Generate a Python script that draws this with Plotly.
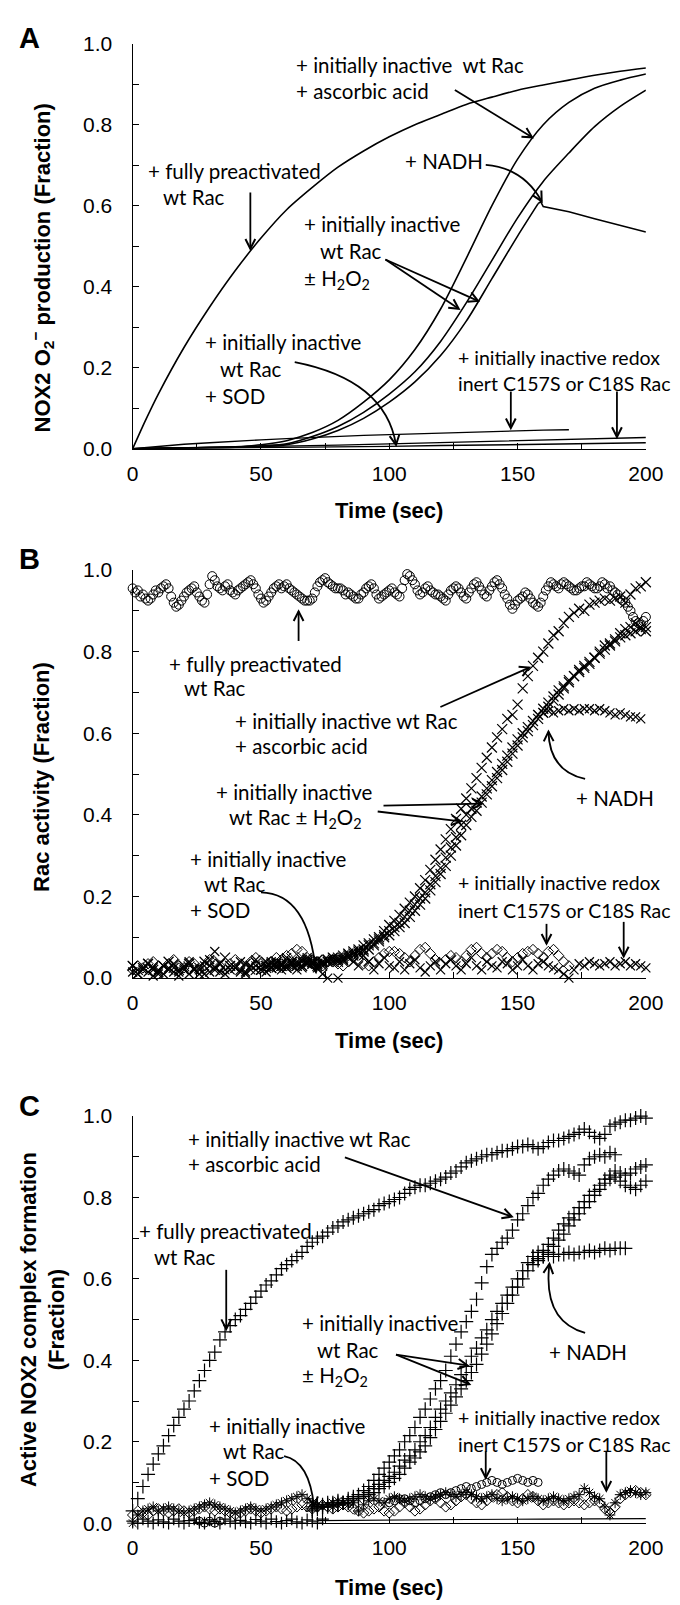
import math
import plotly.graph_objects as go

W, H = 680, 1605
PX_L, PX_R = 123, 655
PANEL_PX = [(24, 435), (558, 972), (1112, 1525)]

# ------------------------------------------------------------------ data
# Panel A (continuous traces)
A_PRE_T = [0, 5, 10, 20, 30, 40, 50, 60, 70, 80, 90, 100, 110, 120, 130, 140, 150, 160, 170, 180, 190, 200]
A_PRE = [0, 0.07, 0.135, 0.25, 0.35, 0.44, 0.52, 0.59, 0.645, 0.695, 0.735, 0.77, 0.80, 0.825, 0.85, 0.868, 0.885, 0.898, 0.91, 0.922, 0.932, 0.94]
A_T10 = [0, 10, 20, 30, 40, 50, 60, 70, 80, 90, 100, 110, 120, 130, 140, 150, 160, 170, 180, 190, 200]
A_ASC = [0, 0.001, 0.002, 0.003, 0.005, 0.01, 0.02, 0.04, 0.07, 0.115, 0.17, 0.245, 0.345, 0.47, 0.60, 0.715, 0.80, 0.855, 0.89, 0.91, 0.925]
A_MID = [0, 0.001, 0.002, 0.003, 0.004, 0.007, 0.012, 0.03, 0.055, 0.09, 0.135, 0.19, 0.265, 0.36, 0.465, 0.57, 0.66, 0.73, 0.795, 0.845, 0.885]
A_RIGHT_T = [0, 10, 20, 30, 40, 50, 60, 70, 80, 90, 100, 110, 120, 130, 140, 150, 158]
A_RIGHT = [0, 0.001, 0.002, 0.003, 0.004, 0.006, 0.01, 0.024, 0.045, 0.075, 0.115, 0.165, 0.23, 0.315, 0.42, 0.525, 0.605]
A_NADH_T = [158, 159, 160, 170, 180, 190, 200]
A_NADH = [0.605, 0.61, 0.598, 0.585, 0.568, 0.552, 0.535]
A_C157S_T = [0, 10, 20, 30, 40, 50, 60, 70, 80, 90, 100, 110, 120, 130, 140, 150, 160, 170]
A_C157S = [0, 0.006, 0.011, 0.015, 0.019, 0.022, 0.025, 0.028, 0.031, 0.033, 0.035, 0.037, 0.039, 0.041, 0.043, 0.044, 0.046, 0.047]
A_T20 = [0, 20, 40, 60, 80, 100, 120, 140, 160, 180, 200]
A_C18S = [0, 0.002, 0.004, 0.006, 0.009, 0.012, 0.015, 0.018, 0.021, 0.024, 0.028]
A_SOD = [0, 0.001, 0.002, 0.003, 0.005, 0.006, 0.008, 0.009, 0.011, 0.013, 0.015]

# Panel B (markers), time grid 2 s
B_T = list(range(0, 201, 2))
B_T_ODD = list(range(1, 200, 2))
B_CIRC = [0.955, 0.95, 0.94, 0.925, 0.94, 0.945, 0.96, 0.955, 0.92, 0.915,
          0.935, 0.95, 0.96, 0.935, 0.92, 0.965, 0.975, 0.955, 0.96, 0.95,
          0.94, 0.955, 0.965, 0.975, 0.955, 0.93, 0.925, 0.945, 0.96, 0.955,
          0.965, 0.95, 0.94, 0.93, 0.925, 0.93, 0.96, 0.975, 0.97, 0.96,
          0.955, 0.95, 0.945, 0.935, 0.93, 0.945, 0.96, 0.955, 0.93, 0.94,
          0.95, 0.945, 0.935, 0.975, 0.985, 0.965, 0.94, 0.955, 0.95, 0.94,
          0.935, 0.925, 0.95, 0.96, 0.945, 0.93, 0.955, 0.97, 0.95, 0.935,
          0.96, 0.975, 0.955, 0.93, 0.905, 0.925, 0.935, 0.94, 0.92, 0.91,
          0.935, 0.96, 0.965, 0.955, 0.97, 0.96, 0.95, 0.955, 0.96, 0.965,
          0.955, 0.96, 0.965, 0.96, 0.945, 0.93, 0.92, 0.9, 0.875, 0.865,
          0.885]
B_CIRC_ODD = [0.945, 0.935, 0.93, 0.93, 0.95, 0.955, 0.965, 0.935, 0.91, 0.925,
              0.945, 0.955, 0.945, 0.925, 0.94, 0.985, 0.96, 0.95, 0.965, 0.945,
              0.95, 0.96, 0.97, 0.965, 0.94, 0.92, 0.935, 0.955, 0.965, 0.96,
              0.955, 0.945, 0.935, 0.925, 0.925, 0.945, 0.97, 0.98, 0.965, 0.955,
              0.955, 0.94, 0.94, 0.93, 0.94, 0.955, 0.965, 0.94, 0.935, 0.945,
              0.955, 0.94, 0.955, 0.99, 0.975, 0.95, 0.945, 0.96, 0.945, 0.94,
              0.93, 0.94, 0.955, 0.955, 0.935, 0.945, 0.965, 0.96, 0.94, 0.95,
              0.97, 0.965, 0.94, 0.915, 0.915, 0.93, 0.945, 0.93, 0.915, 0.92,
              0.95, 0.97, 0.96, 0.965, 0.965, 0.955, 0.95, 0.96, 0.97, 0.96,
              0.955, 0.97, 0.955, 0.95, 0.94, 0.925, 0.91, 0.885, 0.87, 0.875]
B_ASC = [0.03, 0.02, 0.025, 0.035, 0.02, 0.015, 0.03, 0.04, 0.025, 0.02,
         0.03, 0.035, 0.02, 0.025, 0.04, 0.03, 0.02, 0.035, 0.05, 0.03,
         0.025, 0.02, 0.035, 0.03, 0.02, 0.03, 0.04, 0.025, 0.03, 0.035,
         0.03, 0.04, 0.035, 0.03, 0.045, 0.04, 0.035, 0.04, 0.045, 0.05,
         0.05, 0.055, 0.06, 0.065, 0.07, 0.08, 0.085, 0.095, 0.10, 0.115,
         0.13, 0.14, 0.155, 0.17, 0.185, 0.20, 0.22, 0.24, 0.265, 0.29,
         0.315, 0.34, 0.365, 0.39, 0.415, 0.44, 0.465, 0.49, 0.515, 0.54,
         0.565, 0.59, 0.61, 0.635, 0.645, 0.67, 0.71, 0.74, 0.765, 0.785,
         0.80, 0.82, 0.84, 0.85, 0.87, 0.885, 0.895, 0.905, 0.9, 0.915,
         0.92, 0.925, 0.93, 0.925, 0.93, 0.935, 0.92, 0.94, 0.955, 0.96,
         0.97]
B_H_T = list(range(50, 201, 2))
B_H1 = [0.03, 0.025, 0.035, 0.04, 0.03,
        0.035, 0.04, 0.03, 0.045, 0.035, 0.04, 0.045, 0.035, 0.04, 0.045,
        0.045, 0.05, 0.055, 0.06, 0.065, 0.07, 0.08, 0.085, 0.095, 0.105,
        0.115, 0.125, 0.135, 0.15, 0.165, 0.18, 0.195, 0.21, 0.23, 0.25,
        0.27, 0.295, 0.32, 0.345, 0.375, 0.40, 0.415, 0.43, 0.445, 0.465,
        0.485, 0.505, 0.525, 0.545, 0.565, 0.585, 0.60, 0.615, 0.63, 0.645,
        0.66, 0.675, 0.69, 0.705, 0.715, 0.73, 0.74, 0.755, 0.765, 0.775,
        0.785, 0.795, 0.805, 0.815, 0.825, 0.835, 0.84, 0.845, 0.85, 0.855,
        0.86]
B_H2 = [0.02, 0.03, 0.025, 0.035, 0.03,
        0.025, 0.035, 0.04, 0.03, 0.04, 0.035, 0.03, 0.04, 0.045, 0.04,
        0.04, 0.045, 0.05, 0.055, 0.06, 0.065, 0.07, 0.08, 0.09, 0.10,
        0.105, 0.115, 0.125, 0.135, 0.15, 0.165, 0.18, 0.195, 0.215, 0.235,
        0.255, 0.275, 0.30, 0.325, 0.35, 0.375, 0.395, 0.41, 0.43, 0.45,
        0.47, 0.49, 0.51, 0.53, 0.55, 0.57, 0.59, 0.605, 0.62, 0.635,
        0.65, 0.665, 0.68, 0.695, 0.71, 0.725, 0.74, 0.75, 0.76, 0.77,
        0.785, 0.80, 0.815, 0.82, 0.83, 0.845, 0.855, 0.86, 0.87, 0.86,
        0.85]
B_NADH_T = list(range(158, 199, 2))
B_NADH = [0.645, 0.65, 0.655, 0.65, 0.655, 0.66, 0.655, 0.66, 0.655, 0.66, 0.66,
          0.655, 0.66, 0.655, 0.65, 0.645, 0.65, 0.645, 0.64, 0.64, 0.635]
B_C18S = [0.03, 0.01, 0.02, 0.035, 0.025, 0.01, 0.03, 0.02, 0.035, 0.015,
          0.025, 0.04, 0.02, 0.01, 0.03, 0.045, 0.065, 0.035, 0.02, 0.03,
          0.025, 0.04, 0.015, 0.03, 0.045, 0.02, 0.03, 0.04, 0.025, 0.035,
          0.05, 0.03, 0.02, 0.04, 0.05, 0.035, 0.025, 0.01, 0.04, 0.05,
          0.0, 0.045, 0.06, 0.04, 0.03, 0.055, 0.04, 0.02, 0.035, 0.05,
          0.03, 0.025, 0.04, 0.02, 0.035, 0.045, 0.025, 0.015, 0.03, 0.04,
          0.02, 0.035, 0.045, 0.03, 0.02, 0.035, 0.05, 0.03, 0.02, 0.04,
          0.03, 0.025, 0.04, 0.035, 0.02, 0.03, 0.045, 0.03, 0.02, 0.035,
          0.04, 0.03, 0.025, 0.02, 0.01, 0.0, 0.02, 0.035, 0.03, 0.04,
          0.035, 0.03, 0.035, 0.04, 0.03, 0.035, 0.04, 0.03, 0.035, 0.03,
          0.025]
B_C157S_T = list(range(0, 171, 2))
B_C157S = [0.02, 0.03, 0.025, 0.035, 0.04, 0.03, 0.02, 0.035, 0.045, 0.03,
           0.025, 0.04, 0.035, 0.02, 0.03, 0.045, 0.04, 0.03, 0.02, 0.035,
           0.045, 0.03, 0.025, 0.04, 0.05, 0.035, 0.03, 0.04, 0.05, 0.045,
           0.055, 0.06, 0.07, 0.065, 0.05, 0.04, 0.035, 0.03, 0.04, 0.045,
           0.035, 0.03, 0.04, 0.05, 0.045, 0.035, 0.03, 0.04, 0.05, 0.06,
           0.065, 0.065, 0.06, 0.05, 0.04, 0.055, 0.07, 0.075, 0.06, 0.045,
           0.035, 0.045, 0.055, 0.05, 0.04, 0.055, 0.07, 0.075, 0.06, 0.05,
           0.06, 0.07, 0.065, 0.05, 0.04, 0.05, 0.06, 0.065, 0.07, 0.06,
           0.05, 0.065, 0.07, 0.055, 0.04, 0.03]
B_SOD_T = list(range(0, 77, 2))
B_SOD = [0.015, 0.01, 0.025, 0.015, 0.005, 0.02, 0.01, 0.025, 0.015, 0.005,
         0.02, 0.01, 0.025, 0.02, 0.01, 0.015, 0.025, 0.015, 0.01, 0.02,
         0.025, 0.015, 0.01, 0.02, 0.03, 0.02, 0.015, 0.025, 0.03, 0.02,
         0.025, 0.035, 0.03, 0.025, 0.035, 0.04, 0.035, 0.03, 0.0]

# Panel C (markers), time grid 2 s
C_T = list(range(0, 201, 2))
C_PRE = [0.03, 0.06, 0.09, 0.12, 0.145, 0.17, 0.19, 0.215, 0.24, 0.26,
         0.28, 0.30, 0.325, 0.35, 0.375, 0.40, 0.42, 0.45, 0.47, 0.485,
         0.50, 0.51, 0.525, 0.54, 0.555, 0.57, 0.585, 0.595, 0.61, 0.625,
         0.635, 0.645, 0.655, 0.665, 0.68, 0.69, 0.70, 0.705, 0.715, 0.725,
         0.73, 0.74, 0.745, 0.75, 0.755, 0.76, 0.765, 0.77, 0.78, 0.785,
         0.79, 0.795, 0.80, 0.81, 0.82, 0.825, 0.83, 0.83, 0.835, 0.84,
         0.845, 0.85, 0.86, 0.865, 0.875, 0.885, 0.89, 0.895, 0.9, 0.905,
         0.905, 0.91, 0.915, 0.915, 0.92, 0.925, 0.925, 0.93, 0.925, 0.92,
         0.925, 0.935, 0.94, 0.94, 0.945, 0.95, 0.955, 0.96, 0.968, 0.96,
         0.95, 0.945, 0.955, 0.975, 0.98, 0.985, 0.99, 0.99, 0.995, 1.0,
         0.995]
C_ASC_T = list(range(70, 189, 2))
C_ASC = [0.04, 0.045, 0.04, 0.05, 0.045, 0.055, 0.05, 0.06, 0.065, 0.07,
         0.08, 0.09, 0.105, 0.12, 0.135, 0.15, 0.165, 0.18, 0.20, 0.215,
         0.235, 0.26, 0.28, 0.305, 0.33, 0.35, 0.375, 0.41, 0.44, 0.47,
         0.495, 0.52, 0.55, 0.59, 0.63, 0.66, 0.675, 0.69, 0.70, 0.72,
         0.745, 0.76, 0.78, 0.80, 0.81, 0.83, 0.845, 0.855, 0.865, 0.87,
         0.865, 0.86, 0.855, 0.88, 0.895, 0.90, 0.905, 0.90, 0.91, 0.905]
C_H_T = list(range(70, 201, 2))
C_H1 = [0.035, 0.04, 0.045, 0.04, 0.05, 0.045, 0.05, 0.055, 0.06, 0.065,
        0.07, 0.075, 0.085, 0.095, 0.105, 0.115, 0.125, 0.14, 0.155, 0.165,
        0.18, 0.20, 0.215, 0.235, 0.26, 0.28, 0.30, 0.32, 0.34, 0.365,
        0.385, 0.41, 0.43, 0.455, 0.475, 0.50, 0.52, 0.54, 0.56, 0.58,
        0.60, 0.62, 0.64, 0.655, 0.665, 0.67, 0.685, 0.70, 0.72, 0.735,
        0.75, 0.76, 0.775, 0.79, 0.805, 0.815, 0.83, 0.845, 0.855, 0.865,
        0.86, 0.855, 0.86, 0.87, 0.875, 0.88]
C_H2 = [0.03, 0.035, 0.04, 0.045, 0.04, 0.045, 0.05, 0.05, 0.055, 0.06,
        0.065, 0.07, 0.075, 0.085, 0.09, 0.10, 0.11, 0.12, 0.135, 0.15,
        0.16, 0.175, 0.19, 0.21, 0.23, 0.25, 0.27, 0.29, 0.31, 0.33,
        0.35, 0.37, 0.39, 0.415, 0.44, 0.465, 0.49, 0.515, 0.54, 0.56,
        0.58, 0.60, 0.62, 0.635, 0.645, 0.655, 0.665, 0.68, 0.695, 0.71,
        0.73, 0.745, 0.76, 0.775, 0.79, 0.805, 0.82, 0.835, 0.845, 0.85,
        0.84, 0.83, 0.825, 0.82, 0.83, 0.84]
C_NADH_T = list(range(156, 193, 2))
C_NADH = [0.655, 0.65, 0.655, 0.66, 0.655, 0.66, 0.66, 0.665, 0.66, 0.665,
          0.665, 0.67, 0.665, 0.67, 0.675, 0.67, 0.675, 0.675, 0.675]
C_AST = [0.0, 0.02, 0.03, 0.035, 0.04, 0.03, 0.035, 0.04, 0.035, 0.03,
         0.025, 0.03, 0.035, 0.04, 0.045, 0.05, 0.045, 0.04, 0.035, 0.03,
         0.025, 0.03, 0.035, 0.04, 0.035, 0.03, 0.035, 0.04, 0.045, 0.05,
         0.055, 0.06, 0.065, 0.07, 0.06, 0.05, 0.045, 0.04, 0.045, 0.05,
         0.055, 0.05, 0.045, 0.05, 0.03, 0.045, 0.055, 0.06, 0.055, 0.05,
         0.06, 0.065, 0.06, 0.055, 0.06, 0.065, 0.07, 0.065, 0.06, 0.065,
         0.07, 0.075, 0.07, 0.065, 0.07, 0.075, 0.07, 0.065, 0.06, 0.065,
         0.07, 0.06, 0.055, 0.06, 0.065, 0.06, 0.055, 0.06, 0.065, 0.06,
         0.055, 0.06, 0.065, 0.06, 0.055, 0.06, 0.065, 0.07, 0.085, 0.075,
         0.065, 0.06, 0.04, 0.02, 0.05, 0.07, 0.075, 0.08, 0.075, 0.07,
         0.075]
C_DIA = [0.02, 0.03, 0.025, 0.02, 0.03, 0.035, 0.03, 0.025, 0.03, 0.035,
         0.03, 0.025, 0.03, 0.035, 0.04, 0.035, 0.03, 0.035, 0.03, 0.025,
         0.02, 0.025, 0.03, 0.035, 0.03, 0.025, 0.03, 0.035, 0.04, 0.035,
         0.03, 0.035, 0.04, 0.045, 0.04, 0.035, 0.04, 0.045, 0.04, 0.035,
         0.04, 0.045, 0.04, 0.035, 0.03, 0.025, 0.03, 0.035, 0.04, 0.03,
         0.025, 0.03, 0.04, 0.05, 0.04, 0.03, 0.035, 0.045, 0.055, 0.06,
         0.05, 0.04, 0.045, 0.055, 0.065, 0.07, 0.06, 0.05, 0.045, 0.055,
         0.065, 0.07, 0.075, 0.065, 0.055, 0.05, 0.06, 0.07, 0.065, 0.055,
         0.045, 0.05, 0.055, 0.05, 0.045, 0.05, 0.055, 0.05, 0.045, 0.05,
         0.055, 0.05, 0.035, 0.025, 0.04, 0.06, 0.07, 0.075, 0.08, 0.075,
         0.07]
C_CIRC_T = [26, 28, 30, 32, 34] + list(range(100, 159, 2))
C_CIRC = [0.005, 0.0, 0.005, 0.0, 0.005,
          0.05, 0.055, 0.06, 0.06, 0.055, 0.05, 0.055, 0.06, 0.065, 0.07,
          0.075, 0.07, 0.075, 0.08, 0.085, 0.09, 0.085, 0.09, 0.095, 0.1,
          0.105, 0.1, 0.095, 0.1, 0.105, 0.11, 0.105, 0.1, 0.105, 0.1]
C_SOD_T = list(range(0, 75, 2))
C_SOD = [0.005, 0.0, 0.01, 0.005, 0.0, 0.008, 0.003, 0.0, 0.01, 0.005,
         0.0, 0.006, 0.01, 0.002, 0.0, 0.008, 0.004, 0.0, 0.01, 0.005,
         0.0, 0.007, 0.003, 0.0, 0.009, 0.005, 0.0, 0.01, 0.004, 0.0,
         0.006, 0.01, 0.003, 0.0, 0.008, 0.005, 0.0, 0.01]
C_SODLINE_T = [72, 100, 130, 160, 200]
C_SODLINE = [0.006, 0.008, 0.009, 0.01, 0.011]

X_TICKS = [0, 50, 100, 150, 200]
X_MINOR = [25, 75, 125, 175]
Y_TICKS = [0.0, 0.2, 0.4, 0.6, 0.8, 1.0]
Y_MINOR = [0.1, 0.3, 0.5, 0.7, 0.9]

# ------------------------------------------------------------------ helpers
BLACK = '#000000'
SANS = 'Liberation Sans, Arial, sans-serif'
TICKFONT = dict(family=SANS, size=21, color=BLACK)
TITLEFONT = dict(family=SANS, size=22, color=BLACK)
ANNFONT = dict(family='Lato, Liberation Sans, sans-serif', size=20.5, color=BLACK)
ANNFONT_S = dict(family='Lato, Liberation Sans, sans-serif', size=19.5, color=BLACK)
LETTERFONT = dict(family=SANS, size=29, color=BLACK)


def xp(px):
    return px / W


def yp(py):
    return 1 - py / H


def ax_names(i):
    s = '' if i == 0 else str(i + 1)
    return 'x' + s, 'y' + s


fig = go.Figure()


def add_line(t, v, panel, shape='spline', width=1.6):
    xa, ya = ax_names(panel)
    ln = dict(color=BLACK, width=width, shape=shape)
    if shape == 'spline':
        ln['smoothing'] = 0.8
    fig.add_trace(go.Scatter(x=list(t), y=v, mode='lines', line=ln, xaxis=xa, yaxis=ya,
                             hoverinfo='skip', showlegend=False, cliponaxis=False))


def add_markers(t, v, panel, symbol, size=9, lw=1.0):
    xa, ya = ax_names(panel)
    fig.add_trace(go.Scatter(x=list(t), y=v, mode='markers',
                             marker=dict(symbol=symbol, size=size, color=BLACK,
                                         line=dict(color=BLACK, width=lw)),
                             xaxis=xa, yaxis=ya, hoverinfo='skip', showlegend=False,
                             cliponaxis=False))


# ------------------------------------------------------------------ traces
# A
add_line(A_PRE_T, A_PRE, 0)
add_line(A_T10, A_ASC, 0)
add_line(A_T10, A_MID, 0)
add_line(A_RIGHT_T, A_RIGHT, 0)
add_line(A_NADH_T, A_NADH, 0, shape='linear')
add_line(A_C157S_T, A_C157S, 0, shape='linear', width=1.4)
add_line(A_T20, A_C18S, 0, shape='linear', width=1.4)
add_line(A_T20, A_SOD, 0, shape='linear', width=1.4)

# B
add_markers(B_C157S_T, B_C157S, 1, 'diamond-open', 8, 1.0)
add_markers(B_T, B_C18S, 1, 'x-thin-open', 9, 1.2)
add_markers(B_SOD_T, B_SOD, 1, 'x-thin-open', 9, 1.2)
add_markers(B_T, B_CIRC, 1, 'circle-open', 9, 1.0)
add_markers(B_T_ODD, B_CIRC_ODD, 1, 'circle-open', 9, 1.0)
add_markers(B_T, B_ASC, 1, 'x-thin-open', 10, 1.2)
add_markers(B_H_T, B_H1, 1, 'x-thin-open', 10, 1.2)
add_markers(B_H_T, B_H2, 1, 'x-thin-open', 10, 1.2)
add_markers(B_NADH_T, B_NADH, 1, 'x-thin-open', 9, 1.2)

# C
add_line(C_SODLINE_T, C_SODLINE, 2, shape='linear', width=1.2)
add_markers(C_SOD_T, C_SOD, 2, 'cross-thin-open', 9, 1.2)
add_markers(C_T, C_DIA, 2, 'diamond-open', 8, 1.0)
add_markers(C_T, C_AST, 2, 'asterisk-open', 9, 1.0)
add_markers(C_CIRC_T, C_CIRC, 2, 'circle-open', 8, 1.0)
add_markers(C_T, C_PRE, 2, 'cross-thin-open', 10, 1.2)
add_markers(C_ASC_T, C_ASC, 2, 'cross-thin-open', 10, 1.2)
add_markers(C_H_T, C_H1, 2, 'cross-thin-open', 10, 1.2)
add_markers(C_H_T, C_H2, 2, 'cross-thin-open', 10, 1.2)
add_markers(C_NADH_T, C_NADH, 2, 'cross-thin-open', 10, 1.2)

# ------------------------------------------------------------------ axes
axis_common = dict(showline=True, linecolor=BLACK, linewidth=1.3, showgrid=False, zeroline=False,
                   ticks='inside', ticklen=6, tickwidth=1.3, tickcolor=BLACK, tickfont=TICKFONT,
                   fixedrange=True)
layout_axes = {}
for i, (top, bot) in enumerate(PANEL_PX):
    s = '' if i == 0 else str(i + 1)
    layout_axes['xaxis' + s] = dict(axis_common, domain=[xp(PX_L), xp(PX_R)], range=[0, 200],
                                    anchor='y' + s, tickmode='array', tickvals=X_TICKS,
                                    minor=dict(tickmode='array', tickvals=X_MINOR, ticks='inside',
                                               ticklen=6, tickwidth=1.3, tickcolor=BLACK),
                                    ticklabelstandoff=6)
    layout_axes['yaxis' + s] = dict(axis_common, domain=[yp(bot), yp(top)], range=[0, 1],
                                    anchor='x' + s, tickmode='array', tickvals=Y_TICKS,
                                    tickformat='.1f',
                                    minor=dict(tickmode='array', tickvals=Y_MINOR, ticks='inside',
                                               ticklen=6, tickwidth=1.3, tickcolor=BLACK),
                                    ticklabelstandoff=15)

# ------------------------------------------------------------------ annotations
annotations = []
shapes = []


def label(text, px, py, anchor='left', font=ANNFONT, angle=0):
    annotations.append(dict(text=text, x=xp(px), y=yp(py), xref='paper', yref='paper',
                            xanchor=anchor, yanchor='middle', showarrow=False, font=font,
                            textangle=angle))


def seg_path(points):
    return 'M ' + ' L '.join('{:.5f},{:.5f}'.format(xp(a), yp(b)) for a, b in points)


def head(tip, back, size=11, spread=0.48):
    dx, dy = back[0] - tip[0], back[1] - tip[1]
    L = math.hypot(dx, dy)
    ux, uy = dx / L, dy / L
    pts = []
    for a in (spread, -spread):
        rx = ux * math.cos(a) - uy * math.sin(a)
        ry = ux * math.sin(a) + uy * math.cos(a)
        pts.append((tip[0] + size * rx, tip[1] + size * ry))
    shapes.append(dict(type='path', xref='paper', yref='paper', layer='above',
                       path=seg_path([pts[0], tip, pts[1]]),
                       line=dict(color=BLACK, width=2)))


def arrow(tail, tip):
    shapes.append(dict(type='path', xref='paper', yref='paper', layer='above',
                       path=seg_path([tail, tip]), line=dict(color=BLACK, width=1.8)))
    head(tip, tail)


def curve(p0, c, p1):
    shapes.append(dict(type='path', xref='paper', yref='paper', layer='above',
                       path='M {:.5f},{:.5f} Q {:.5f},{:.5f} {:.5f},{:.5f}'.format(
                           xp(p0[0]), yp(p0[1]), xp(c[0]), yp(c[1]), xp(p1[0]), yp(p1[1])),
                       line=dict(color=BLACK, width=1.8)))
    head(p1, c)


# panel letters and axis titles
for letter, py in (('<b>A</b>', 18), ('<b>B</b>', 547), ('<b>C</b>', 1102)):
    label(letter, 16, py, anchor='center', font=LETTERFONT)
for py in (498, 1035, 1590):
    label('<b>Time (sec)</b>', 389, py, anchor='center', font=TITLEFONT)
label('<b>NOX2 O<sub>2</sub><sup>\u2212</sup> production (Fraction)</b>', 29, 251, anchor='center',
      font=TITLEFONT, angle=-90)
label('<b>Rac activity (Fraction)</b>', 29, 768, anchor='center', font=TITLEFONT, angle=-90)
label('<b>Active NOX2 complex formation<br>(Fraction)</b>', 30, 1318, anchor='center',
      font=TITLEFONT, angle=-90)

H2O2 = 'H<sub>2</sub>O<sub>2</sub>'

# Panel A texts
label('+ initially inactive  wt Rac', 290, 46)
label('+ ascorbic acid', 290, 72)
label('+ NADH', 403, 143)
label('+ fully preactivated', 137, 153)
label('wt Rac', 152, 180)
label('+ initially inactive', 299, 207)
label('wt Rac', 315, 234)
label('\u00b1 ' + H2O2, 299, 263)
label('+ initially inactive', 196, 327)
label('wt Rac', 211, 354)
label('+ SOD', 196, 381)
label('+ initially inactive redox', 458, 342, font=ANNFONT_S)
label('inert C157S or C18S Rac', 458, 369, font=ANNFONT_S)
arrow((457, 71), (537, 119))
arrow((245, 175), (245, 232))
arrow((385, 243), (461, 293))
arrow((385, 243), (481, 285))
arrow((515, 377), (515, 414))
arrow((625, 377), (625, 423))
curve((489, 147), (528, 150), (547, 184))
curve((291, 347), (385, 365), (396, 431))

# Panel B texts
label('+ fully preactivated', 159, 653)
label('wt Rac', 174, 678)
label('+ initially inactive wt Rac', 227, 711)
label('+ ascorbic acid', 227, 737)
label('+ initially inactive', 207, 783)
label('wt Rac \u00b1 ' + H2O2, 221, 810)
label('+ NADH', 581, 789)
label('+ initially inactive', 180, 851)
label('wt Rac', 195, 877)
label('+ SOD', 180, 903)
label('+ initially inactive redox', 458, 875, font=ANNFONT_S)
label('inert C157S or C18S Rac', 458, 903, font=ANNFONT_S)
arrow((295, 630), (295, 600))
arrow((442, 697), (534, 657))
arrow((383, 797), (485, 795))
arrow((377, 803), (463, 813))
arrow((552, 917), (552, 937))
arrow((632, 915), (632, 950))
curve((592, 770), (555, 762), (554, 722))
curve((256, 885), (305, 886), (313, 966))

# Panel C texts
label('+ initially inactive wt Rac', 178, 1135)
label('+ ascorbic acid', 178, 1161)
label('+ fully preactivated', 128, 1229)
label('wt Rac', 143, 1255)
label('+ initially inactive', 296, 1322)
label('wt Rac', 312, 1349)
label('\u00b1 ' + H2O2, 296, 1376)
label('+ NADH', 552, 1351)
label('+ initially inactive', 200, 1426)
label('wt Rac', 215, 1452)
label('+ SOD', 200, 1479)
label('+ initially inactive redox', 458, 1418, font=ANNFONT_S)
label('inert C157S or C18S Rac', 458, 1445, font=ANNFONT_S)
arrow((343, 1154), (516, 1214))
arrow((220, 1268), (220, 1328))
arrow((396, 1354), (470, 1365))
arrow((396, 1354), (472, 1384))
arrow((489, 1452), (489, 1479))
arrow((614, 1452), (614, 1492))
curve((592, 1332), (548, 1320), (555, 1262))
curve((280, 1457), (306, 1462), (311, 1508))

fig.update_layout(width=W, height=H, autosize=False, margin=dict(l=0, r=0, t=0, b=0),
                  paper_bgcolor='white', plot_bgcolor='white', showlegend=False,
                  annotations=annotations, shapes=shapes, **layout_axes)

fig.write_html('out.html')
